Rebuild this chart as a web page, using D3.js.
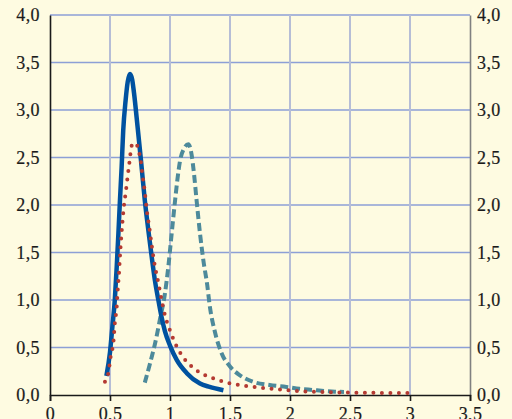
<!DOCTYPE html>
<html><head><meta charset="utf-8">
<script src="https://cdn.jsdelivr.net/npm/d3@7"></script>
<style>html,body{margin:0;padding:0;background:#fefbe1;}svg{display:block;}</style>
</head><body>
<script>
const xTicks = [0, 0.5, 1, 1.5, 2, 2.5, 3, 3.5];
const yTicks = [0, 0.5, 1, 1.5, 2, 2.5, 3, 3.5, 4];
const blueX = [0.47,0.50,0.52,0.54,0.556,0.57,0.583,0.597,0.61,0.63,0.648,0.667,0.685,0.70,0.73,0.758,0.79,0.82,0.847,0.875,0.903,0.93,0.958,1.0,1.056,1.14,1.25,1.33,1.445];
const blueY = [0.2,0.45,0.72,1.0,1.35,1.7,2.05,2.4,2.78,3.1,3.3,3.38,3.32,3.18,2.82,2.47,2.05,1.73,1.46,1.2,1.0,0.82,0.67,0.52,0.37,0.23,0.12,0.085,0.05];
const redX = [0.458,0.486,0.505,0.53,0.54,0.556,0.564,0.575,0.583,0.592,0.603,0.615,0.632,0.648,0.657,0.665,0.673,0.69,0.72,0.74,0.756,0.77,0.79,0.806,0.828,0.847,0.875,0.903,0.93,0.958,1.0,1.056,1.097,1.167,1.22,1.29,1.36,1.42,1.47,1.56,1.64,1.75,1.83,1.90,1.97,2.04,2.18,2.32,2.5,2.75,3.0];
const redY = [0.14,0.23,0.40,0.58,0.75,0.93,1.1,1.28,1.46,1.63,1.81,1.98,2.14,2.31,2.40,2.48,2.57,2.65,2.64,2.56,2.47,2.32,2.14,1.95,1.76,1.58,1.35,1.18,1.0,0.84,0.68,0.51,0.42,0.316,0.26,0.21,0.175,0.15,0.13,0.108,0.093,0.078,0.068,0.06,0.053,0.045,0.035,0.03,0.025,0.022,0.02];
const tealX = [0.79,0.833,0.875,0.917,0.958,0.986,1.014,1.04,1.06,1.083,1.12,1.153,1.18,1.2,1.22,1.25,1.28,1.31,1.33,1.375,1.43,1.5,1.58,1.69,1.83,1.97,2.08,2.19,2.29,2.375,2.45];
const tealY = [0.13,0.33,0.54,0.80,1.07,1.35,1.70,2.02,2.25,2.46,2.60,2.64,2.53,2.33,2.07,1.70,1.40,1.16,0.95,0.66,0.44,0.30,0.21,0.14,0.105,0.085,0.065,0.053,0.042,0.035,0.032];

const W = 512, H = 419;
const svg = d3.select("body").append("svg").attr("width", W).attr("height", H);
svg.append("rect").attr("width", W).attr("height", H).attr("fill", "#fefbe1");
const x = d3.scaleLinear().domain([0, 3.5]).range([50, 470]);
const y = d3.scaleLinear().domain([0, 4]).range([395, 15]);
const fmtY = d => d3.format(".1f")(d).replace(".", ",");
const fmtX = d => (d % 1 === 0 ? String(d) : String(d).replace(".", ","));

// horizontal grid
svg.append("g").selectAll("line").data(yTicks.filter(d => d > 0)).join("line")
  .attr("x1", x(0)).attr("x2", x(3.5)).attr("y1", d => y(d)).attr("y2", d => y(d))
  .attr("stroke", "#8d9fd6").attr("stroke-width", 1.3);
// vertical grid
svg.append("g").selectAll("line").data(xTicks.filter(d => d > 0 && d < 3.5)).join("line")
  .attr("x1", d => x(d)).attr("x2", d => x(d)).attr("y1", y(4)).attr("y2", y(0))
  .attr("stroke", "#b6bdd6").attr("stroke-width", 2);

// axes
const font = "'Times New Roman', 'Liberation Serif', serif";
const gL = svg.append("g").attr("transform", `translate(${x(0)},0)`)
  .call(d3.axisLeft(y).tickValues(yTicks).tickFormat(fmtY).tickSize(0).tickPadding(10));
gL.select(".domain").attr("stroke", "#1a1a1a").attr("stroke-width", 1.6);
const gR = svg.append("g").attr("transform", `translate(${x(3.5)},0)`)
  .call(d3.axisRight(y).tickValues(yTicks).tickFormat(fmtY).tickSize(0).tickPadding(7));
gR.select(".domain").attr("stroke", "#808080").attr("stroke-width", 1.6);
const gB = svg.append("g").attr("transform", `translate(0,${y(0)})`)
  .call(d3.axisBottom(x).tickValues(xTicks).tickFormat(fmtX).tickSize(6).tickPadding(6));
gB.select(".domain").attr("stroke", "#1a1a1a").attr("stroke-width", 1.6);
gB.selectAll(".tick line").attr("stroke", "#1a1a1a").attr("stroke-width", 1.6);
[gL, gR, gB].forEach(g => g.attr("font-family", font).attr("font-size", 18));
svg.selectAll(".tick text").style("font-family", font).style("font-size", "18px")
  .style("letter-spacing", "0.4px")
  .attr("fill", "#1a1a1a").attr("stroke", "#1a1a1a").attr("stroke-width", 0.2);

// curves
const line = d3.line().x(d => x(d[0])).y(d => y(d[1])).curve(d3.curveMonotoneX);
const zip = (a, b) => a.map((v, i) => [v, b[i]]);
svg.append("path").datum(zip(tealX, tealY)).attr("d", line).attr("fill", "none")
  .attr("stroke", "#4d8a9b").attr("stroke-width", 4).attr("stroke-dasharray", "8 4");
svg.append("path").datum(zip(blueX, blueY)).attr("d", line).attr("fill", "none")
  .attr("stroke", "#0052a0").attr("stroke-width", 4.5);
svg.append("path").datum(zip(redX, redY)).attr("d", line).attr("fill", "none")
  .attr("stroke", "#b43a32").attr("stroke-width", 4).attr("stroke-linecap", "round").attr("stroke-dasharray", "0 8.5");
</script>
</body></html>
